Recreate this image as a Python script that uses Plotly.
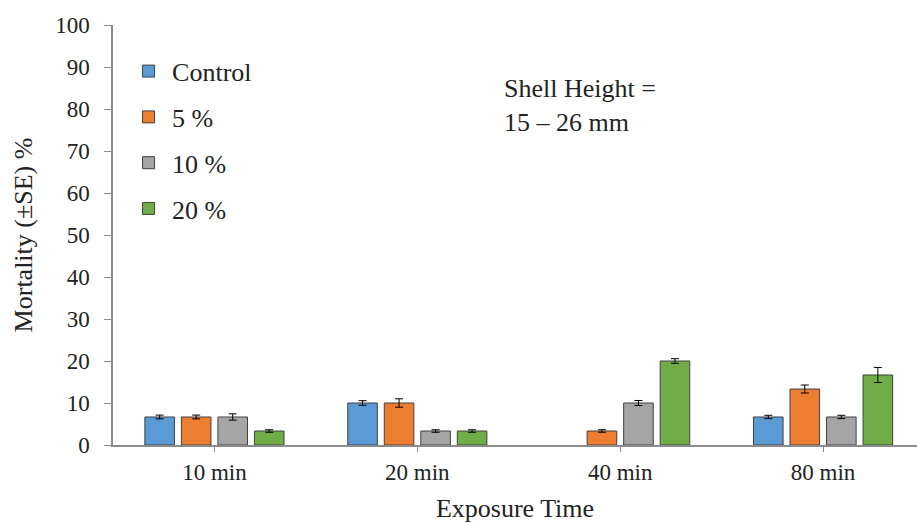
import plotly.graph_objects as go

categories = ["10 min", "20 min", "40 min", "80 min"]
series_names = ["Control", "5 %", "10 %", "20 %"]
control = [6.67, 10.0, 0.0, 6.67]
pct5 = [6.67, 10.0, 3.33, 13.33]
pct10 = [6.67, 3.33, 10.0, 6.67]
pct20 = [3.33, 3.33, 20.0, 16.67]
se_control = [0.45, 0.55, 0.0, 0.4]
se_pct5 = [0.45, 1.0, 0.3, 0.95]
se_pct10 = [0.75, 0.3, 0.6, 0.4]
se_pct20 = [0.3, 0.3, 0.55, 1.8]
colors = ["#5B9BD5", "#ED7D31", "#A5A5A5", "#70AD47"]

values = [control, pct5, pct10, pct20]
errors = [se_control, se_pct5, se_pct10, se_pct20]

FONT = "Liberation Serif"
TXT = "#222222"

fig = go.Figure()
for i, (name, vals, errs) in enumerate(zip(series_names, values, errors)):
    # a zero value draws no bar in the reference
    y_vals = [v if v > 0 else None for v in vals]
    fig.add_trace(go.Bar(
        x=categories, y=y_vals, name=name, legendgroup=name,
        marker=dict(color=colors[i], line=dict(color="#404040", width=1)),
        error_y=dict(type="data", array=errs, visible=True,
                     color="black", thickness=1, width=4),
    ))

fig.update_layout(
    width=917, height=523,
    margin=dict(l=113, r=0, t=25, b=78, autoexpand=False),
    paper_bgcolor="white", plot_bgcolor="white",
    font=dict(family=FONT, size=23, color=TXT),
    barmode="group", bargap=0.28, bargroupgap=0.19,
    showlegend=True,
    legend=dict(x=0.015, y=0.946, xanchor="left", yanchor="top",
                font=dict(family=FONT, size=26, color=TXT),
                traceorder="grouped", tracegroupgap=9, itemwidth=37,
                bgcolor="rgba(0,0,0,0)"),
    xaxis=dict(range=[-0.5, 3.463], showline=True, linecolor="#8c8c8c", linewidth=1.5,
               ticks="outside", tickcolor="#8c8c8c", ticklen=5, tickwidth=1,
               showgrid=False, zeroline=False, ticklabelstandoff=1, automargin=False,
               tickfont=dict(family=FONT, size=23, color=TXT),
               title=dict(text="Exposure Time", font=dict(family=FONT, size=26, color=TXT),
                          standoff=16)),
    yaxis=dict(range=[0, 100], dtick=10, showline=True, linecolor="#8c8c8c", linewidth=1.5,
               ticks="outside", tickcolor="#8c8c8c", ticklen=7, tickwidth=1,
               showgrid=False, zeroline=False, ticklabelstandoff=10, automargin=False,
               tickfont=dict(family=FONT, size=23, color=TXT),
               title=dict(text="Mortality (±SE) %", font=dict(family=FONT, size=26, color=TXT),
                          standoff=15)),
    annotations=[dict(text="Shell Height =<br>15 – 26 mm",
                      x=(502 - 113) / 804, y=(445 - 72) / 419.5,
                      xref="paper", yref="paper", showarrow=False, align="left",
                      xanchor="left", yanchor="top",
                      font=dict(family=FONT, size=26, color=TXT))],
)

fig.write_html("out.html", config={"displayModeBar": False},
               post_script="document.body.style.margin='0';document.body.style.overflow='hidden';")
